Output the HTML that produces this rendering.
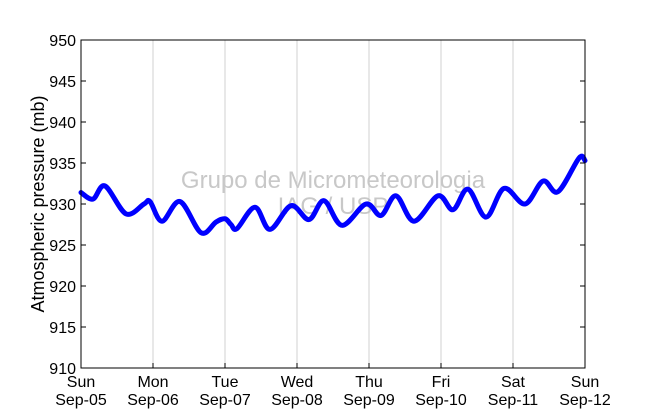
<!DOCTYPE html>
<html><head><meta charset="utf-8"><style>
body{margin:0;background:#fff;}
svg{display:block;font-family:"Liberation Sans","DejaVu Sans",sans-serif;}
</style></head><body>
<svg id="chart" width="650" height="409" viewBox="0 0 650 409" xmlns="http://www.w3.org/2000/svg">
<rect width="650" height="409" fill="#fff"/>
<g id="grid"></g>
<text x="333" y="188" font-size="24" fill="#c8c8c8" text-anchor="middle">Grupo de Micrometeorologia</text>
<text x="333" y="214" font-size="24" fill="#c8c8c8" text-anchor="middle">IAG / USP</text>
<path id="series" fill="none" stroke="#0000ff" stroke-width="5" stroke-linejoin="round" stroke-linecap="round"/>
<rect x="81" y="40" width="504" height="328" fill="none" stroke="#000" stroke-width="1"/>
<g id="ticks"></g>
<text transform="translate(44,204) rotate(-90)" font-size="18" text-anchor="middle">Atmospheric pressure (mb)</text>
</svg>
<script>
const hours=[0,4,8,15,21,23,27,33,40,45,48,50,52,58,63,70,76,81,87,95,100,105,111,119,124,129,135,141,148,154,159,166,168];
const pressure=[931.4,930.6,932.2,928.8,930.0,930.3,927.9,930.3,926.5,927.8,928.2,927.5,927.0,929.6,926.9,929.8,928.1,930.4,927.4,930.0,928.6,931.0,927.9,931.0,929.3,931.8,928.4,931.9,930.0,932.8,931.5,935.6,935.3];
const yTicks=[910,915,920,925,930,935,940,945,950];
const dayNames=["Sun","Mon","Tue","Wed","Thu","Fri","Sat","Sun"];
const dayDates=["Sep-05","Sep-06","Sep-07","Sep-08","Sep-09","Sep-10","Sep-11","Sep-12"];
const X0=81,X1=585,Y0=368,Y1=40;
const xs=h=>X0+h/168*(X1-X0);
const ys=v=>Y0-(v-910)/40*(Y0-Y1);
const NS="http://www.w3.org/2000/svg";
const grid=document.getElementById('grid'),tk=document.getElementById('ticks');
function mk(tag,attrs,parent){const e=document.createElementNS(NS,tag);for(const k in attrs)e.setAttribute(k,attrs[k]);parent.appendChild(e);return e;}
dayNames.forEach((d,i)=>{
  const x=xs(i*24);
  if(i>0&&i<7){const g=mk('line',{x1:x,x2:x,y1:Y1,y2:Y0,stroke:'#d0d0d0','stroke-width':1},grid);
  
  }
  const t1=mk('line',{x1:x,x2:x,y1:Y0,y2:Y0-5,stroke:'#000'},tk);
  
  
  const l=mk('text',{x:x,y:387,'font-size':16,'text-anchor':'middle'},tk);l.textContent=d;
  
  
  const l2=mk('text',{x:x,y:405,'font-size':16,'text-anchor':'middle'},tk);l2.textContent=dayDates[i];
  
  
});
yTicks.forEach(v=>{
  const y=ys(v);
  const t=mk('line',{x1:X0,x2:X0+5,y1:y,y2:y,stroke:'#000'},tk);
  
  
  const t2=mk('line',{x1:X1,x2:X1-5,y1:y,y2:y,stroke:'#000'},tk);
  
  
  const l=mk('text',{x:76,y:y+6,'font-size':16,'text-anchor':'end'},tk);l.textContent=v;
  
  
});
const pts=hours.map((h,i)=>[xs(h),ys(pressure[i])]);
let d='M'+pts[0][0]+','+pts[0][1];
for(let i=0;i<pts.length-1;i++){
  const p0=pts[Math.max(0,i-1)],p1=pts[i],p2=pts[i+1],p3=pts[Math.min(pts.length-1,i+2)];
  const c1=[p1[0]+(p2[0]-p0[0])/6,p1[1]+(p2[1]-p0[1])/6];
  const c2=[p2[0]-(p3[0]-p1[0])/6,p2[1]-(p3[1]-p1[1])/6];
  d+=' C'+c1[0]+','+c1[1]+' '+c2[0]+','+c2[1]+' '+p2[0]+','+p2[1];
}
document.getElementById('series').setAttribute('d',d);
</script>
</body></html>
